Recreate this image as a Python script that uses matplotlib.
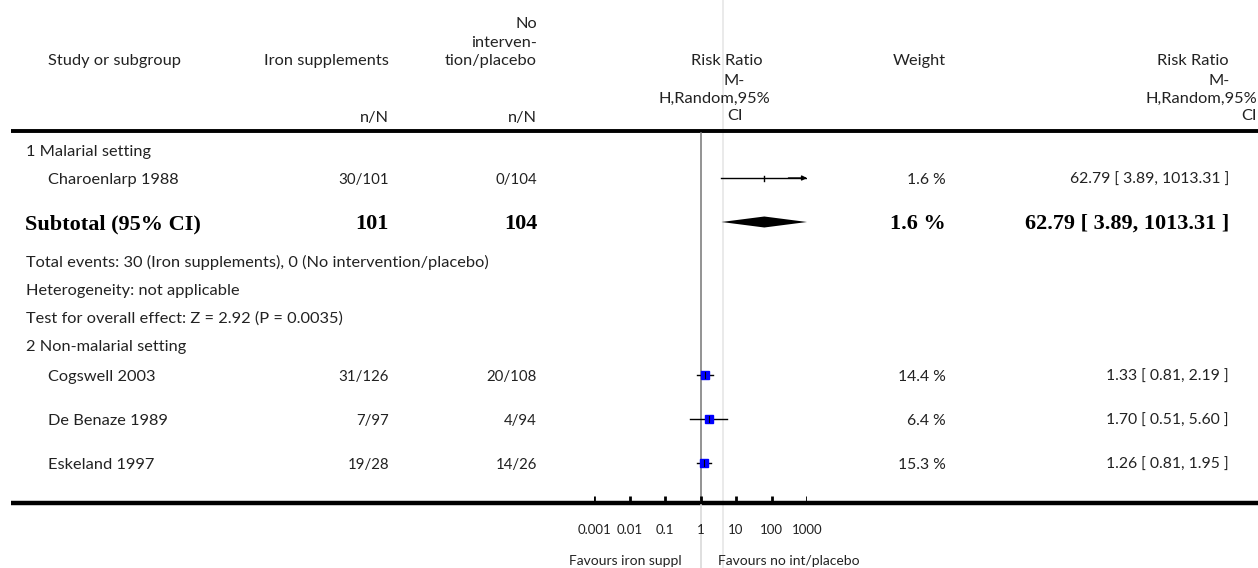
import matplotlib
matplotlib.use("Agg")
import matplotlib.pyplot as plt

# study level data
studies = ["Charoenlarp 1988", "Cogswell 2003", "De Benaze 1989", "Eskeland 1997"]
events_iron = [30, 31, 7, 19]
total_iron = [101, 126, 97, 28]
events_ctrl = [0, 20, 4, 14]
total_ctrl = [104, 108, 94, 26]
rr = [62.79, 1.33, 1.70, 1.26]
ci_low = [3.89, 0.81, 0.51, 0.81]
ci_high = [1013.31, 2.19, 5.60, 1.95]
weights = [1.6, 14.4, 6.4, 15.3]

# subtotal of subgroup 1
sub_n = [101, 104]
sub_rr = [62.79]
sub_low = [3.89]
sub_high = [1013.31]
sub_weight = [1.6]

ticks = [0.001, 0.01, 0.1, 1, 10, 100, 1000]
tick_labels = ["0.001", "0.01", "0.1", "1", "10", "100", "1000"]

W, H = 1258, 568
fig = plt.figure(figsize=(W / 100, H / 100), dpi=100)
ax = fig.add_axes([0, 0, 1, 1])
ax.set_xlim(0, W)
ax.set_ylim(H, 0)
ax.axis("off")

# forest panel, log scale, 0.001 at px 594 and 1000 at px 807
x0, x1 = 594, 807
fx = fig.add_axes([x0 / W, 0, (x1 - x0) / W, 1])
fx.set_xscale("log")
fx.set_xlim(1e-3, 1e3)
fx.set_ylim(H, 0)
fx.axis("off")
fx.patch.set_alpha(0)

FONT = "Lato"
TXT = "#222222"
fs = 11.8      # words
fs_n = 10.8    # n/N columns
fs_r = 11.3    # weight / ratio columns

def t(x, y, s, ha="left", size=fs, **kw):
    ax.text(x, y, s, ha=ha, va="baseline", fontsize=size, color=TXT,
            family=FONT, **kw)

def tb(x, y, s, ha="left"):
    ax.text(x, y, s, ha=ha, va="baseline", fontsize=16, color="black",
            family="Liberation Serif", weight="bold")

# header
t(115, 65, "Study or subgroup", ha="center")
t(389, 65, "Iron supplements", ha="right")
t(537, 28, "No", ha="right")
t(537, 47, "interven-", ha="right")
t(537, 65, "tion/placebo", ha="right")
t(763, 65, "Risk Ratio", ha="right")
t(745, 85, "M-", ha="right")
t(770, 103, "H,Random,95%", ha="right")
t(743, 120, "CI", ha="right")
t(946, 65, "Weight", ha="right")
t(1229, 65, "Risk Ratio", ha="right")
t(1230, 85, "M-", ha="right")
t(1257, 103, "H,Random,95%", ha="right")
t(1257, 120, "CI", ha="right")
t(389, 122, "n/N", ha="right")
t(537, 122, "n/N", ha="right")

# light guide line and horizontal rules
ax.plot([723, 723], [0, H], color="#e6e6e6", lw=1.2, zorder=0)
ax.plot([11, W], [131, 131], color="black", lw=2.8, solid_capstyle="butt")
ax.plot([11, W], [503, 503], color="black", lw=3.2, solid_capstyle="butt")

# line of no effect
fx.plot([1, 1], [133, 501], color="#808080", lw=1.2, zorder=1)
fx.plot([1, 1], [505, H], color="#d9d9d9", lw=1.2, zorder=1)

# rows
study_y = [178, 375, 419, 463]
t(26, 156, "1 Malarial setting")
t(26, 267, "Total events: 30 (Iron supplements), 0 (No intervention/placebo)")
t(26, 295, "Heterogeneity: not applicable")
t(26, 323, "Test for overall effect: Z = 2.92 (P = 0.0035)")
t(26, 351, "2 Non-malarial setting")

for i, name in enumerate(studies):
    y = study_y[i]
    t(48, y + 6, name)
    t(389, y + 6, f"{events_iron[i]}/{total_iron[i]}", ha="right", size=fs_n)
    t(537, y + 6, f"{events_ctrl[i]}/{total_ctrl[i]}", ha="right", size=fs_n)
    t(946, y + 6, f"{weights[i]:.1f} %", ha="right", size=fs_r)
    t(1229, y + 6, f"{rr[i]:.2f} [ {ci_low[i]:.2f}, {ci_high[i]:.2f} ]",
      ha="right", size=fs_r)

    hi = min(ci_high[i], 1e3)
    fx.plot([ci_low[i], hi], [y, y], color="black", lw=1.0, zorder=3)
    if ci_high[i] > 1e3:
        fx.annotate("", xy=(1e3, y), xytext=(300, y),
                    arrowprops=dict(arrowstyle="-|>", color="black", lw=1.0,
                                    mutation_scale=7, shrinkA=0, shrinkB=0))
        fx.plot([rr[i], rr[i]], [y - 2.5, y + 2.5], color="black", lw=1.0, zorder=3)
    else:
        ms = 4.6 + 0.07 * weights[i]
        fx.plot(rr[i], y, marker="s", ms=ms, color="#0000ff", mec="#0000ff", zorder=4)
        fx.plot([rr[i], rr[i]], [y - 3, y + 3], color="black", lw=0.8, zorder=5)

# subtotal row
ys = 222
tb(25, ys + 7, "Subtotal (95% CI)")
tb(389, ys + 7, str(sub_n[0]), ha="right")
tb(537, ys + 7, str(sub_n[1]), ha="right")
tb(946, ys + 7, f"{sub_weight[0]:.1f} %", ha="right")
tb(1229, ys + 7, f"{sub_rr[0]:.2f} [ {sub_low[0]:.2f}, {sub_high[0]:.2f} ]", ha="right")
dh = 5.5
fx.fill([sub_low[0], sub_rr[0], min(sub_high[0], 1e3), sub_rr[0]],
        [ys, ys - dh, ys, ys + dh], color="black", lw=0, zorder=3)

# ticks and labels
for v, lab in zip(ticks, tick_labels):
    fx.plot([v, v], [496, 503], color="black", lw=2.0, solid_capstyle="butt")
    fx.text(v, 534, lab, ha="center", va="baseline", fontsize=9.5, color=TXT,
            family=FONT)

t(682, 565, "Favours iron suppl", ha="right", size=10)
t(718, 565, "Favours no int/placebo", ha="left", size=10)

fig.savefig("out.png", dpi=100)
